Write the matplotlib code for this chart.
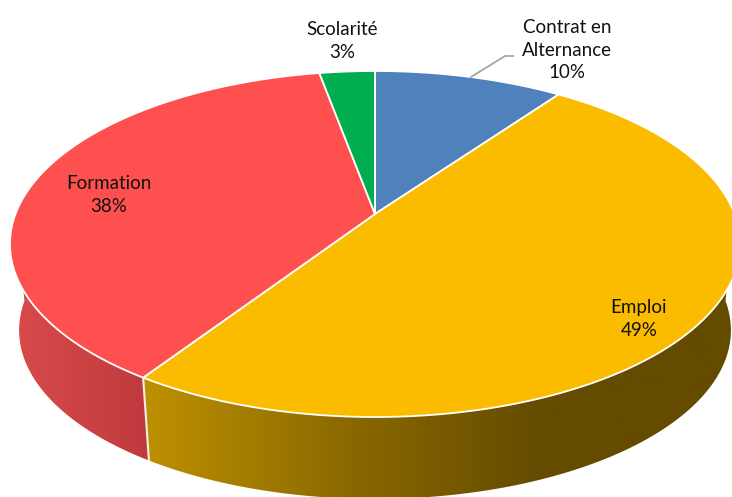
import numpy as np
import matplotlib
matplotlib.use("Agg")
import matplotlib.pyplot as plt
from matplotlib.colors import LinearSegmentedColormap
from matplotlib.patches import Polygon

plt.rcParams['font.family'] = ['Lato', 'DejaVu Sans']

# parts of the pie, clockwise from 12 o'clock
categories = ["Contrat en\nAlternance", "Emploi", "Formation", "Scolarité"]
shares = [9.9, 49.4, 37.8, 2.9]
colors = ["#4F81BD", "#FBBC00", "#FF5050", "#00AE50"]
side_dark = {"Emploi": ["#BE9100", "#8C6A00", "#644B00", "#644B00"],
             "Formation": ["#DA4B4B", "#BF3A3D"]}

# where the labels sit
label_pos = [(567, 50), (639, 319), (109, 195), (342, 41)]

# pie projection, in picture pixels
cx, cy = 375, 214
k = 0.1734
bx, by = 359.5, 167.8
low_scale = 0.975
low_cy = 301


def top(theta):
    u, v = np.sin(theta), np.cos(theta)
    w = 1 + k * v
    return cx + bx * u / w, cy - by * v / w


def low(theta):
    x, y = top(theta)
    return cx + low_scale * (x - cx), low_cy + low_scale * (y - cy)


def arc(a, b, f=top, n=200):
    x, y = f(np.linspace(a, b, n))
    return np.column_stack([x, y])


fig = plt.figure(figsize=(7.32, 4.97), dpi=100)
ax = fig.add_axes([0, 0, 1, 1])
ax.set_xlim(0, 732)
ax.set_ylim(497, 0)
ax.axis("off")

edges = 2 * np.pi * np.cumsum([0] + shares) / sum(shares)

# side of the cake, front half only
left_limit = 1.5 * np.pi
for i, name in enumerate(categories):
    if name not in side_dark:
        continue
    a = max(edges[i], 0.5 * np.pi)
    b = min(edges[i + 1], left_limit)
    pts = np.vstack([arc(a, b), arc(a, b, low)[::-1]])
    cmap = LinearSegmentedColormap.from_list(name, side_dark[name])
    x0, x1 = pts[:, 0].min(), pts[:, 0].max()
    grad = np.linspace(0, 1, 256).reshape(1, -1)
    if name == "Formation":
        grad = grad[:, ::-1] * 0 + np.linspace(0, 1, 256).reshape(1, -1)
    img = ax.imshow(grad, cmap=cmap, extent=[x0, x1, 510, 0], aspect="auto", zorder=1)
    ax.set_xlim(0, 732)
    ax.set_ylim(497, 0)
    poly = Polygon(pts, closed=True, fc="none", ec="none", transform=ax.transData)
    ax.add_patch(poly)
    img.set_clip_path(poly)

# white seam between the two visible side parts
sx, sy = top(edges[2])
lx, ly = low(edges[2])
ax.plot([sx, lx], [sy, ly], color="#F4F0EA", lw=1.5, zorder=2)

# top face
for i, name in enumerate(categories):
    pts = np.vstack([[cx, cy], arc(edges[i], edges[i + 1])])
    ax.add_patch(Polygon(pts, closed=True, fc=colors[i], ec="white", lw=1.3,
                         joinstyle="round", zorder=3))

# leader line of the first label
ax.plot([471, 505, 513], [77, 56, 56], color="#A6A6A6", lw=1.3, zorder=4)

for name, share, pos in zip(categories, shares, label_pos):
    ax.text(pos[0], pos[1], "%s\n%d%%" % (name, round(share)), ha="center", va="center",
            fontsize=13.5, color="#111111", linespacing=1.38, zorder=5)

fig.savefig("out.png", dpi=100)
